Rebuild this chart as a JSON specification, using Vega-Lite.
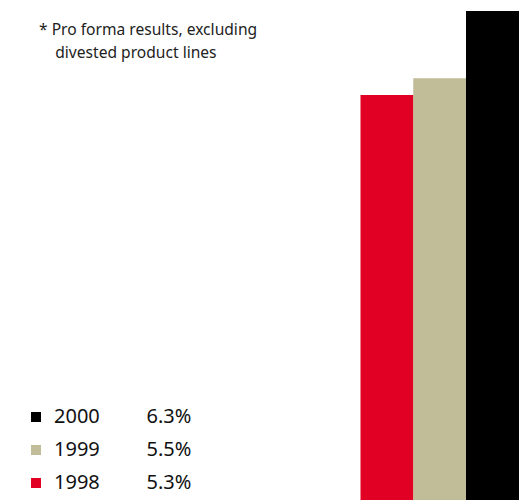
{
  "$schema": "https://vega.github.io/schema/vega-lite/v6.json",
  "width": 527,
  "height": 500,
  "padding": 0,
  "autosize": {"type": "none"},
  "background": "white",
  "config": {"view": {"stroke": null}, "font": "Noto Sans"},
  "title": {
    "text": ["* Pro forma results, excluding", "\u200b\u00a0\u00a0\u00a0\u00a0divested product lines"],
    "anchor": "start",
    "orient": "top",
    "frame": "group",
    "fontSize": 15.6,
    "fontWeight": "normal",
    "color": "#222222",
    "lineHeight": 23,
    "dx": 39,
    "dy": 62,
    "offset": 0
  },
  "data": {
    "values": [
      {"year": 1998, "value": 5.3},
      {"year": 1999, "value": 5.5},
      {"year": 2000, "value": 6.3}
    ]
  },
  "mark": {"type": "bar", "width": 53},
  "encoding": {
    "x": {"field": "year", "type": "quantitative", "axis": null,
          "scale": {"domain": [1990.664, 2000.654], "nice": false, "zero": false, "padding": 0}},
    "y": {"field": "value", "type": "quantitative", "axis": null,
          "scale": {"domain": [0.48, 6.43], "nice": false, "zero": false, "padding": 0}},
    "color": {
      "field": "year", "type": "nominal",
      "scale": {"domain": [2000, 1999, 1998], "range": ["#000000", "#C0BD98", "#E10024"]},
      "legend": {
        "title": null,
        "orient": "none",
        "legendX": 26,
        "legendY": 407,
        "symbolType": "square",
        "symbolSize": 100,
        "symbolStrokeWidth": 0,
        "symbolOpacity": 1,
        "labelFontSize": 20,
        "labelColor": "#111111",
        "labelOffset": 8,
        "rowPadding": 13,
        "labelLimit": 300,
        "labelExpr": "datum.label + '\u00a0\u00a0\u00a0\u00a0\u00a0\u00a0\u00a0\u00a0\u00a0' + (datum.value == 2000 ? '6.3%' : datum.value == 1999 ? '5.5%' : '5.3%')"
      }
    }
  }
}
